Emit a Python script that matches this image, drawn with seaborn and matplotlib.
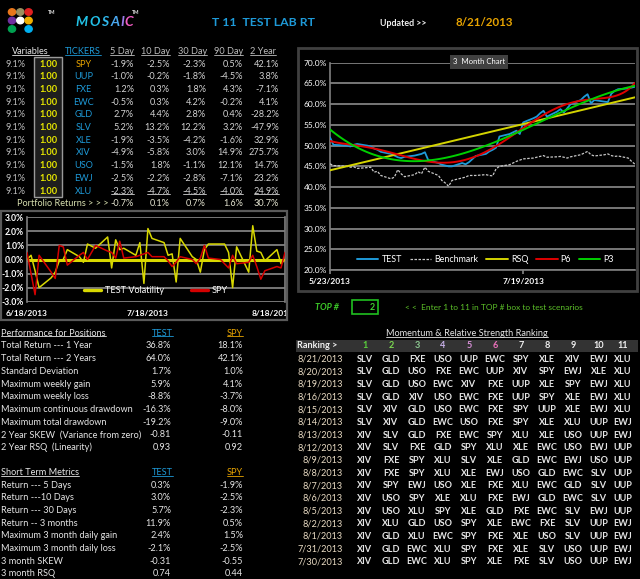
import numpy as np
import pandas as pd
import matplotlib
matplotlib.use("Agg")
import matplotlib.pyplot as plt
import seaborn as sns
from matplotlib.patches import Rectangle, Circle
from matplotlib.lines import Line2D

# ---------------- data ----------------
tickers = ["SPY", "UUP", "FXE", "EWC", "GLD", "SLV", "XLE", "XIV", "USO", "EWJ", "XLU"]
weights = ["9.1%"] * 11
variables = ["1.00"] * 11
ret_5d = [-1.9, -1.0, 1.2, -0.5, 2.7, 5.2, -1.9, -4.9, -1.5, -2.5, -2.3]
ret_10d = [-2.5, -0.2, 0.3, 0.3, 4.4, 13.2, -3.5, -5.8, 1.8, -2.2, -4.7]
ret_30d = [-2.3, -1.8, 1.8, 4.2, 2.8, 12.2, -4.2, 3.0, -1.1, -2.8, -4.5]
ret_90d = [0.5, -4.5, 4.3, -0.2, 0.4, 3.2, -1.6, 14.9, 12.1, -7.1, -4.0]
ret_2y = [42.1, 3.8, -7.1, 4.1, -28.2, -47.9, 32.9, 275.7, 14.7, 23.2, 24.9]
portfolio = [-0.7, 0.1, 0.7, 1.6, 30.7]
period_cols = ["5 Day", "10 Day", "30 Day", "90 Day", "2 Year"]

perf_labels = ["Total Return --- 1 Year", "Total Return --- 2 Years", "Standard Deviation",
               "Maximum weekly gain", "Maximum weekly loss", "Maximum continuous drawdown",
               "Maximum total drawdown", "2 Year SKEW  (Variance from zero)", "2 Year RSQ  (Linearity)"]
perf_test = ["36.8%", "64.0%", "1.7%", "5.9%", "-8.8%", "-16.3%", "-19.2%", "-0.81", "0.93"]
perf_spy = ["18.1%", "42.1%", "1.0%", "4.1%", "-3.7%", "-8.0%", "-9.0%", "-0.11", "0.92"]

short_labels = ["Return --- 5 Days", "Return ---10 Days", "Return --- 30 Days", "Return -- 3 months",
                "Maximum 3 month daily gain", "Maximum 3 month daily loss", "3 month SKEW", "3 month RSQ"]
short_test = ["0.3%", "3.0%", "5.7%", "11.9%", "2.4%", "-2.1%", "-0.31", "0.74"]
short_spy = ["-1.9%", "-2.5%", "-2.3%", "0.5%", "1.5%", "-2.5%", "-0.55", "0.44"]

rank_dates = ["8/21/2013", "8/20/2013", "8/19/2013", "8/16/2013", "8/15/2013", "8/14/2013",
              "8/13/2013", "8/12/2013", "8/9/2013", "8/8/2013", "8/7/2013", "8/6/2013",
              "8/5/2013", "8/2/2013", "8/1/2013", "7/31/2013", "7/30/2013"]
rankings = [
    "SLV GLD FXE USO UUP EWC SPY XLE XIV EWJ XLU",
    "SLV GLD USO FXE EWC UUP XIV SPY EWJ XLE XLU",
    "SLV GLD USO EWC XIV FXE UUP XLE SPY EWJ XLU",
    "SLV GLD XIV USO EWC FXE UUP SPY XLE EWJ XLU",
    "SLV XIV GLD USO EWC FXE SPY UUP XLE EWJ XLU",
    "SLV XIV GLD EWC USO FXE SPY XLE XLU UUP EWJ",
    "XIV SLV GLD FXE EWC SPY XLU XLE USO UUP EWJ",
    "XIV SLV FXE GLD SPY XLU XLE EWC USO EWJ UUP",
    "XIV FXE SPY XLU SLV XLE GLD EWC EWJ USO UUP",
    "XIV FXE SPY XLU XLE EWJ USO GLD EWC SLV UUP",
    "XIV SPY EWJ USO XLE FXE XLU EWC GLD SLV UUP",
    "XIV USO SPY XLE XLU FXE EWJ GLD EWC SLV UUP",
    "XIV USO XLU SPY XLE GLD FXE EWC SLV EWJ UUP",
    "XIV XLU GLD USO SPY XLE EWC FXE SLV UUP EWJ",
    "XIV GLD XLU EWC SPY FXE XLE USO SLV UUP EWJ",
    "XIV GLD EWC XLU SPY FXE XLE SLV USO UUP EWJ",
    "XIV GLD EWC XLU SPY XLE FXE SLV USO UUP EWJ",
]

# 3 month chart (trading days 5/23/2013 .. 8/21/2013), values in %
dates3 = pd.bdate_range("2013-05-23", "2013-08-21").drop(pd.to_datetime(["2013-05-27", "2013-07-04"]))
test_3m = [52.0, 50.2, 50.0, 49.8, 50.2, 50.4, 50.0, 49.8, 49.3, 49.0, 48.5, 48.0, 47.6, 47.2, 47.0,
           47.3, 47.6, 47.8, 48.0, 48.4, 46.5, 45.8, 45.4, 45.2, 45.0, 45.0, 45.8, 45.5, 46.0, 47.5,
           48.0, 48.6, 49.0, 49.5, 52.2, 52.8, 53.2, 53.6, 52.8, 55.6, 56.6, 57.0, 57.8, 58.4, 57.0,
           58.2, 58.8, 58.0, 59.0, 60.0, 61.0, 61.8, 62.4, 60.2, 61.0, 60.6, 60.5, 62.5, 63.2, 63.6,
           63.8, 64.0, 64.2]
bench_3m = [45.6, 45.2, 45.0, 44.8, 44.9, 44.5, 44.7, 44.8, 43.6, 43.8, 42.8, 42.0, 42.4, 44.2, 43.2,
            42.5, 43.0, 43.7, 43.2, 44.8, 43.8, 42.8, 41.6, 41.0, 40.2, 41.6, 42.2, 42.4, 42.8, 42.8,
            43.0, 42.8, 42.7, 44.4, 45.0, 45.4, 45.8, 46.2, 46.5, 46.8, 47.0, 47.2, 47.4, 47.6, 47.2,
            47.3, 47.4, 47.2, 47.0, 47.3, 47.8, 48.2, 48.6, 47.8, 47.5, 47.8, 48.0, 47.6, 47.4, 47.5,
            47.0, 46.2, 45.5]

# volatility chart (trading days 6/18/2013 .. 8/21/2013), daily % change
dates_v = pd.bdate_range("2013-06-18", "2013-08-21").drop(pd.to_datetime(["2013-07-04"]))
test_vol = [0.0, 0.3, -0.8, -2.0, -1.3, -0.9, -0.1, 0.0, 0.7, 0.2, -0.2, 1.1, 0.8, 1.6, -0.6, 1.4,
            0.7, 0.8, 0.3, 1.2, -1.7, 2.2, 1.5, 1.2, 0.3, 0.4, -1.6, 1.5, 0.2, 0.0, -0.9, 0.7, 1.1,
            1.1, 1.1, 0.5, -2.0, 0.9, -0.9, 2.4, 0.6, 0.5, -0.1, 0.7, -0.3, 0.0]
spy_vol = [0.5, -1.0, -2.5, 0.3, -0.9, -1.35, 1.0, 0.9, -0.4, 0.3, 0.5, 0.0, 1.0, 0.6, 0.5, 0.1,
           1.3, 0.1, 0.2, 0.3, 0.4, 0.5, 0.2, 0.2, -0.1, -0.5, -0.2, 0.2, 0.0, -0.3, 0.1, 1.0, 0.1,
           0.0, -0.3, -0.6, 0.3, -0.3, -0.2, 0.3, -0.5, -1.4, -0.8, -0.5, -0.6, 0.5]

# ---------------- style ----------------
sns.set_theme(style="dark", rc={"axes.facecolor": "black", "figure.facecolor": "black",
                                "text.color": "white", "xtick.color": "white", "ytick.color": "white"})
plt.rcParams["font.family"] = ["Lato", "DejaVu Sans"]

W, H = 640, 579
fig = plt.figure(figsize=(W / 100, H / 100), dpi=100)
fig.patch.set_facecolor("black")

LIGHT = "#e6e6e6"
CYAN = "#1e9ad8"
GOLD = "#e8a400"
FS = 6.6
underlined = []


def put(x, y, s, color=LIGHT, size=FS, ha="left", weight="normal", under=False, **kw):
    t = fig.text(x / W, 1 - y / H, s, color=color, fontsize=size, ha=ha, va="center",
                 fontweight=weight, **kw)
    if under:
        underlined.append(t)
    return t


def box(x0, y0, x1, y1, **kw):
    r = Rectangle((x0 / W, 1 - y1 / H), (x1 - x0) / W, (y1 - y0) / H, transform=fig.transFigure, **kw)
    fig.add_artist(r)
    return r


def rect(x0, y0, x1, y1):
    return [x0 / W, 1 - y1 / H, (x1 - x0) / W, (y1 - y0) / H]


# ---------------- header ----------------
dot_colors = [["#e8761b", "#9a9060", "#e02020"], ["#7030a0", "#ffffff", "#f0b000"], ["#00a050", None, "#00b0f0"]]
for r_i, row in enumerate(dot_colors):
    for c_i, c in enumerate(row):
        if c:
            fig.add_artist(Circle(((12 + 8.3 * c_i) / W, 1 - (12 + 8.5 * r_i) / H), 3.6 / W,
                                  transform=fig.transFigure, color=c))
put(48, 12, "TM", size=3.5, weight="bold")
for ch, cx, col in zip("MOSAIC", [81.5, 95, 105, 115, 122.5, 128.5],
                       ["#22c4e8", "#22c0e8", "#30b8ec", "#4aa8f0", "#9a7ae8", "#f25cc4"]):
    put(cx, 22, ch, color=col, size=10, ha="center", weight="bold", style="italic")
put(132, 12, "TM", size=3.5, weight="bold")
put(212, 22.5, "T 11  TEST LAB RT", color=CYAN, size=8.8, weight="bold")
put(380, 23.5, "Updated >>", color="#f0f0f0", size=6.4, weight="bold")
put(455, 23, "8/21/2013", color=GOLD, size=8.3, weight="bold")

# ---------------- tickers table ----------------
hdr_y = 51.5
put(12, hdr_y, "Variables", under=True)
put(83, hdr_y, "TICKERS", color=CYAN, ha="center", under=True)
for name, xr in zip(period_cols, [134, 170, 207, 243, 276]):
    put(xr, hdr_y, name, color="#bdbdbd", ha="right", under=True)

box(34, 57, 62, 197, facecolor="#1e1e1e", edgecolor="#9a9a9a", lw=1.0)
row_y = [64.3 + 12.67 * i for i in range(11)]
cols = [ret_5d, ret_10d, ret_30d, ret_90d, ret_2y]
for i, y in enumerate(row_y):
    put(25, y, weights[i], color="#bdbdbd", ha="right")
    put(48.5, y, variables[i], color="#e8e800", ha="center", weight="bold")
    put(83.5, y, tickers[i], color=GOLD if tickers[i] == "SPY" else CYAN, ha="center")
    for vals, xr in zip(cols, [134, 170, 206, 243, 279]):
        put(xr, y, f"{vals[i]:.1f}%", color="#d2d2d2", ha="right", under=(i == 10))
put(17, 204, "Portfolio Returns > > >", color="#d8e0b0")
for v, xr in zip(portfolio, [134, 170, 206, 243, 279]):
    put(xr, 204, f"{v:.1f}%", color="#e4e4d0", ha="right")

# ---------------- volatility chart ----------------
vframe = box(1, 211, 287, 320, facecolor="none", edgecolor="#5a5a5a", lw=1.6)
axv = fig.add_axes(rect(27, 217.3, 285, 301.7))
axv.set_facecolor("black")
vol_df = pd.DataFrame({"date": list(dates_v) * 2, "value": test_vol + spy_vol,
                       "series": ["TEST Volatility"] * len(dates_v) + ["SPY"] * len(dates_v)})
axv.axhline(0, color="#d8d800", lw=2.2, zorder=1.5)
sns.lineplot(data=vol_df, x="date", y="value", hue="series",
             palette={"TEST Volatility": "#d8d800", "SPY": "#d40000"}, lw=1.1, ax=axv, zorder=3)
axv.set_ylim(-3, 3)
axv.set_yticks(range(-3, 4))
axv.set_yticklabels([f"{v:.1f}%" for v in range(-3, 4)], fontsize=6.2, fontweight="bold")
axv.set_xlim(pd.Timestamp("2013-06-18"), pd.Timestamp("2013-08-21"))
vt = pd.to_datetime(["2013-06-18", "2013-07-18", "2013-08-18"])
axv.set_xticks(vt)
axv.set_xticklabels([f"{d.month}/{d.day}/{d.year}" for d in vt], fontsize=6.0, fontweight="bold")
for lab in axv.get_xticklabels():
    lab.set_clip_path(vframe)
axv.tick_params(length=0, pad=2)
axv.tick_params(axis="x", pad=6)
axv.set_xlabel("")
axv.set_ylabel("")
axv.grid(False)
axv.yaxis.grid(True, color="#808080", lw=1.3)
for s in ["top", "bottom"]:
    axv.spines[s].set_visible(False)
for s in ["left", "right"]:
    axv.spines[s].set_color("#808080")
    axv.spines[s].set_linewidth(1.2)
vh = [Line2D([], [], color="#d8d800", lw=2.4), Line2D([], [], color="#d40000", lw=2.4)]
axv.legend(vh, ["TEST Volatility", "SPY"], loc="lower center", bbox_to_anchor=(0.5, -0.02), ncol=2,
           frameon=False, fontsize=6.6, labelcolor="white", handlelength=1.8, columnspacing=3.0,
           handletextpad=0.4)

# ---------------- 3 month chart ----------------
box(298, 48, 637, 291, facecolor="none", edgecolor="#404040", lw=2.0)
ax3 = fig.add_axes(rect(330, 62.7, 635, 270))
ax3.set_facecolor("black")
days3 = np.array((dates3 - dates3[0]).days, dtype=float)
sns.lineplot(x=days3, y=test_3m, color="#1e9ad8", lw=1.3, ax=ax3, zorder=4)
sns.lineplot(x=days3, y=bench_3m, color="#c8c8c8", lw=0.9, ax=ax3, linestyle=(0, (2, 1.2)), zorder=3)
fits = [("RSQ", 1, "#d4d400"), ("P6", 6, "#e00000"), ("P3", 3, "#00d000")]
for name, order, col in fits:
    sns.regplot(x=days3, y=np.array(test_3m), order=order, scatter=False, ci=None, truncate=True,
                ax=ax3, line_kws=dict(color=col, lw=1.4, zorder=5))
ax3.set_ylim(20, 70)
ax3.set_yticks(range(20, 71, 5))
ax3.set_yticklabels([f"{v:.1f}%" for v in range(20, 71, 5)], fontsize=6.0)
ax3.set_xlim(0, 90)
xt = pd.to_datetime(["2013-05-23", "2013-07-19"])
ax3.set_xticks((xt - dates3[0]).days)
ax3.set_xticklabels([f"{d.month}/{d.day}/{d.year}" for d in xt], fontsize=6.0, fontweight="bold")
ax3.tick_params(axis="y", length=0, pad=2)
ax3.tick_params(axis="x", length=3, color="#808080", pad=3, direction="out", bottom=True)
ax3.grid(False)
ax3.yaxis.grid(True, color="#808080", lw=1.3)
ax3.set_xlabel("")
ax3.set_ylabel("")
for s in ["top", "right"]:
    ax3.spines[s].set_visible(False)
for s in ["left", "bottom"]:
    ax3.spines[s].set_color("#808080")
    ax3.spines[s].set_linewidth(1.2)
h3 = [Line2D([], [], color="#1e9ad8", lw=1.4),
      Line2D([], [], color="#c8c8c8", lw=0.9, linestyle=(0, (2, 1.2))),
      Line2D([], [], color="#d4d400", lw=1.4),
      Line2D([], [], color="#e00000", lw=1.4),
      Line2D([], [], color="#00d000", lw=1.4)]
ax3.legend(h3, ["TEST", "Benchmark", "RSQ", "P6", "P3"], loc="lower center", bbox_to_anchor=(0.51, -0.01),
           ncol=5, frameon=False, fontsize=6.4, labelcolor="white", handlelength=2.4,
           columnspacing=0.9, handletextpad=0.35)
put(479, 62, "3  Month Chart", color="white", size=5.6, ha="center",
    bbox=dict(facecolor="#404040", edgecolor="none", pad=2.2))

# TOP # row
put(315, 307, "TOP #", color="#3cc828", size=6.4, weight="bold", style="italic")
box(351.5, 300, 378, 314, facecolor="none", edgecolor="#20c020", lw=1.2)
put(375, 307, "2", color="#40d030", size=6.4, ha="right", weight="bold")
put(405, 307, "< <  Enter 1 to 11 in TOP # box to test scenarios", color="#5cc028", size=6.0)

# ---------------- performance tables ----------------
put(1, 333, "Performance for Positions", under=True)
put(162, 333, "TEST", color=CYAN, ha="center", under=True)
put(235, 333, "SPY", color=GOLD, ha="center", under=True)
for i, (lab, t, s) in enumerate(zip(perf_labels, perf_test, perf_spy)):
    y = 346 + 12.67 * i
    put(1, y, lab)
    put(171, y, t, ha="right")
    put(243, y, s, ha="right")

put(1, 472.7, "Short Term Metrics", under=True)
put(162, 472.7, "TEST", color=CYAN, ha="center", under=True)
put(235, 472.7, "SPY", color=GOLD, ha="center", under=True)
for i, (lab, t, s) in enumerate(zip(short_labels, short_test, short_spy)):
    y = 485.3 + 12.67 * i
    put(1, y, lab)
    put(171, y, t, ha="right")
    put(243, y, s, ha="right")

# ---------------- momentum ranking ----------------
put(467, 334, "Momentum & Relative Strength Ranking", ha="center", under=True)
box(296, 339.5, 638, 352, facecolor="#333333", edgecolor="none")
put(297, 345.7, "Ranking >", color="#f0f0f0", weight="bold")
rank_x = [365, 391, 417, 443, 469, 495, 521, 547, 573, 599, 623]
rank_cols = ["#5ad03c", "#7cd850", "#8cc890", "#c8b0e8", "#d890d8", "#e870b8"] + ["#f0f0f0"] * 5
for k, (xc, col) in enumerate(zip(rank_x, rank_cols)):
    put(xc, 345.7, str(k + 1), color=col, ha="center", weight="bold")
for i, (d, row) in enumerate(zip(rank_dates, rankings)):
    y = 359 + 12.67 * i
    put(343, y, d, color="#eadcc4", ha="right")
    for xc, tk in zip(rank_x, row.split()):
        put(xc, y, tk, color="#e6e6e6", ha="center", weight="bold")

# underline texts
fig.canvas.draw()
rend = fig.canvas.get_renderer()
for t in underlined:
    bb = t.get_window_extent(rend)
    yl = (bb.y0 + 1.2) / H
    fig.add_artist(Line2D([bb.x0 / W, bb.x1 / W], [yl, yl], transform=fig.transFigure,
                          color=t.get_color(), lw=0.6))

fig.savefig("out.png", dpi=100, facecolor="black")
